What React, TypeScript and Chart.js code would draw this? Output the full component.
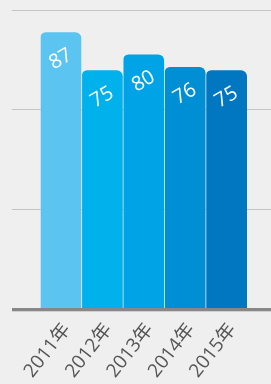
import React, { useEffect, useRef } from "react";
import { Chart, registerables } from "chart.js";

Chart.register(...registerables);

const categories = ["2011年", "2012年", "2013年", "2014年", "2015年"];
const values = [87, 75, 80, 76, 75];
const barColors = ["#5bc4f1", "#00b1eb", "#00a3e5", "#008ed5", "#0077c0"];
const yMax = 94;
const yStep = yMax / 3;

const FONT = '"Open Sans", "Noto Sans CJK SC", sans-serif';

const decorPlugin = {
  id: "decor",
  beforeDatasetsDraw(chart: any) {
    const { ctx, scales, width } = chart;
    const y = scales.y;
    ctx.save();
    ctx.strokeStyle = "#c4c4c4";
    ctx.lineWidth = 1;
    for (let v = yStep; v <= yMax + 0.001; v += yStep) {
      const py = Math.round(y.getPixelForValue(v)) + 0.5;
      ctx.beginPath();
      ctx.moveTo(12, py);
      ctx.lineTo(width, py);
      ctx.stroke();
    }
    ctx.restore();
  },
  afterDatasetsDraw(chart: any) {
    const { ctx, scales, width } = chart;
    const y = scales.y;
    const py = y.getPixelForValue(0);
    ctx.save();
    ctx.fillStyle = "#d0d0d0";
    ctx.fillRect(12, py + 3, width - 12, 1);
    ctx.fillStyle = "#878787";
    ctx.fillRect(12, py, width - 12, 3);
    const meta = chart.getDatasetMeta(0);
    ctx.fillStyle = "#ffffff";
    ctx.font = `20px ${FONT}`;
    ctx.textAlign = "center";
    ctx.textBaseline = "middle";
    meta.data.forEach((bar: any, i: number) => {
      ctx.save();
      ctx.translate(bar.x, bar.y + 27);
      ctx.rotate(-30 * Math.PI / 180);
      ctx.fillText(String(values[i]), 0, 0);
      ctx.restore();
    });
    ctx.restore();
  },
};

export default function App() {
  const ref = useRef<HTMLCanvasElement>(null);
  useEffect(() => {
    document.body.style.margin = "0";
    document.body.style.background = "#efefef";
    const chart = new Chart(ref.current!, {
      type: "bar",
      data: {
        labels: categories,
        datasets: [
          {
            data: values,
            backgroundColor: barColors,
            borderColor: "rgba(255,255,255,0.15)",
            borderWidth: { left: 1, right: 0, top: 0, bottom: 0 } as any,
            borderRadius: { topLeft: 6, topRight: 6, bottomLeft: 0, bottomRight: 0 },
            borderSkipped: false,
            categoryPercentage: 1,
            barPercentage: 1,
          },
        ],
      },
      options: {
        animation: false,
        responsive: true,
        maintainAspectRatio: false,
        layout: { padding: { left: 40, right: 24, top: 10, bottom: 0 } },
        plugins: { legend: { display: false }, tooltip: { enabled: false } },
        scales: {
          x: {
            grid: { display: false },
            border: { display: false },
            afterFit(scale: any) {
              scale.height = 76;
            },
            ticks: {
              color: "#555555",
              font: { size: 19, family: FONT },
              minRotation: 52,
              maxRotation: 52,
              padding: 3,
              labelOffset: 6,
            },
          },
          y: {
            display: false,
            min: 0,
            max: yMax,
          },
        },
      },
      plugins: [decorPlugin],
    });
    return () => chart.destroy();
  }, []);
  return (
    <div style={{ width: 271, height: 384, background: "#efefef", position: "relative" }}>
      <canvas ref={ref} />
    </div>
  );
}
